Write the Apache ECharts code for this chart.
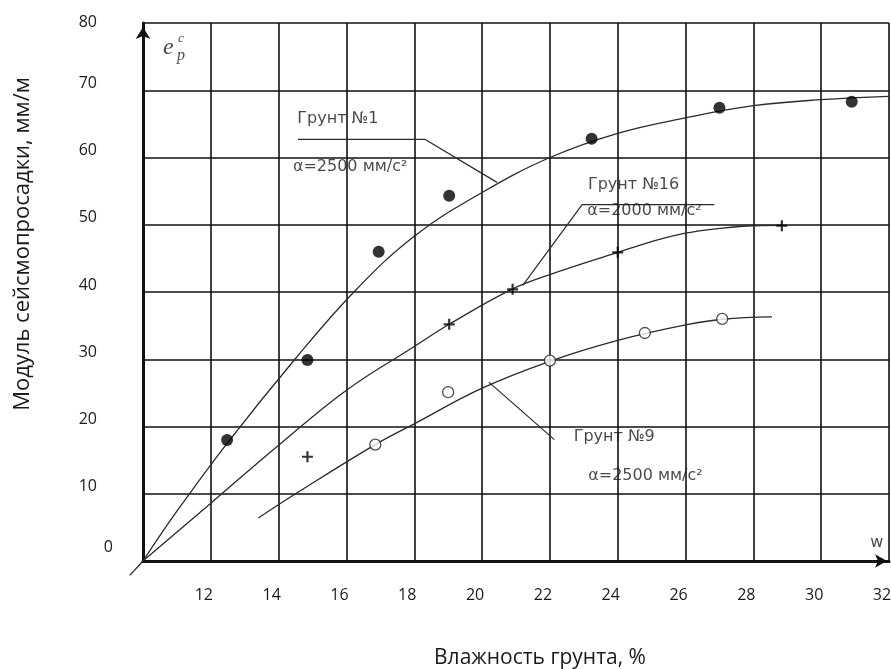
<!DOCTYPE html>
<html>
<head>
<meta charset="utf-8">
<script src="https://cdn.jsdelivr.net/npm/echarts@6/dist/echarts.min.js"></script>
<style>
  html, body { margin: 0; padding: 0; background: #fff; }
  #chart { width: 891px; height: 669px; }
</style>
</head>
<body>
<div id="chart"></div>
<script>
// ---- axis settings ----
const xMin = 10, xMax = 32, xStep = 2;
const yMin = 0, yMax = 80, yStep = 10;
const xTitle = 'Влажность грунта, %';
const yTitle = 'Модуль сейсмопросадки, мм/м';

// ---- measured points ----
const soil1Points = [[12.48, 18.0], [14.85, 29.9], [16.95, 46.0], [19.03, 54.3], [23.23, 62.8], [27.0, 67.4], [30.9, 68.3]];
const soil16Points = [[14.85, 15.5], [19.03, 35.2], [20.9, 40.4], [24.0, 45.9], [28.84, 49.85]];
const soil9Points = [[16.85, 17.3], [19.0, 25.1], [22.0, 29.8], [24.8, 33.9], [27.08, 36.0]];

// ---- fitted curves ----
const soil1Curve = [[10, 0], [11, 7.4], [12.48, 17.5], [14.48, 30], [16.22, 40], [18, 48.3], [20, 54.8], [22, 60], [24, 63.6], [26, 65.9], [28, 67.7], [30, 68.6], [32, 69.1]];
const soil16Curve = [[10, 0], [12, 8.6], [14, 17.2], [16, 25.4], [18, 31.9], [19.03, 35.2], [20.87, 40.4], [22, 42.6], [24, 45.9], [25, 47.5], [26, 48.75], [27, 49.45], [28, 49.85], [28.9, 49.9]];
const soil9Curve = [[13.4, 6.4], [14.5, 10], [16.85, 17.3], [18, 20.4], [20, 25.7], [22, 29.7], [24, 32.8], [26, 35.1], [27.1, 35.95], [28.55, 36.3]];
const originTail = [[9.61, -2.13], [10, 0]];

// ---- callout leader lines ----
const leader1 = [[14.57, 62.7], [18.31, 62.7], [20.44, 56.3]];
const leader16 = [[26.85, 53.0], [22.95, 53.0], [21.2, 41.0]];
const leader9 = [[20.2, 26.6], [22.13, 18.05]];

// ---- callout texts ----
const noteTexts = ['Грунт №1', 'α=2500 мм/с²', 'Грунт №16', 'α=2000 мм/с²', 'Грунт №9', 'α=2500 мм/с²', 'w'];
const notePositions = [[14.55, 65.8], [14.42, 58.6], [23.12, 55.9], [23.1, 52.0], [22.7, 18.4], [23.13, 12.6], [31.45, 2.7]];
const symbolTexts = ['e', 'p', 'c'];
const symbolPositions = [[10.59, 76.4], [11.0, 75.1], [11.03, 77.7]];

const FONT = '"Open Sans", "Noto Sans", sans-serif';
const NOTE_FONT = '"DejaVu Sans", "Noto Sans", sans-serif';
const INK = '#1a1a1a';

const chart = echarts.init(document.getElementById('chart'), null, { renderer: 'canvas' });

function curveSeries(data) {
  return {
    type: 'line', data: data, smooth: 0.4, showSymbol: false, symbol: 'none',
    lineStyle: { color: '#2a2a2a', width: 1.3 }, silent: true, z: 3
  };
}
function leaderSeries(data) {
  return {
    type: 'line', data: data, smooth: false, showSymbol: false, symbol: 'none',
    lineStyle: { color: '#2a2a2a', width: 1.2 }, silent: true, z: 3
  };
}

const symbolStyles = [
  { fontFamily: '"Liberation Serif", "DejaVu Serif", serif', fontStyle: 'italic', fontSize: 24 },
  { fontFamily: '"Liberation Serif", "DejaVu Serif", serif', fontStyle: 'italic', fontSize: 16 },
  { fontFamily: '"Liberation Serif", "DejaVu Serif", serif', fontStyle: 'italic', fontSize: 13 }
];

const option = {
  backgroundColor: '#fff',
  animation: false,
  grid: { left: 143, right: 2, top: 23, bottom: 108, outerBoundsMode: 'none', containLabel: false },
  xAxis: {
    type: 'value', min: xMin, max: xMax, interval: xStep,
    name: xTitle, nameLocation: 'middle', nameGap: 87,
    nameTextStyle: { fontFamily: FONT, fontSize: 21, color: INK, padding: [0, 0, 0, 48] },
    axisLine: { show: true, onZero: true, lineStyle: { color: '#111', width: 3 },
      symbol: ['none', 'arrow'], symbolSize: [10, 12], symbolOffset: [0, -2] },
    axisTick: { show: false },
    axisLabel: { showMinLabel: false, fontFamily: FONT, fontSize: 16, color: INK, margin: 26, padding: [0, 14, 0, 0] },
    splitLine: { show: true, lineStyle: { color: '#111', width: 1.6 } }
  },
  yAxis: {
    type: 'value', min: yMin, max: yMax, interval: yStep,
    name: yTitle, nameLocation: 'middle', nameGap: 109,
    nameTextStyle: { fontFamily: FONT, fontSize: 22, color: INK, padding: [0, 0, 0, 96] },
    axisLine: { show: true, lineStyle: { color: '#111', width: 3 },
      symbol: ['none', 'arrow'], symbolSize: [11, 12], symbolOffset: [0, -4] },
    axisTick: { show: false },
    axisLabel: {
      fontFamily: FONT, fontSize: 16, color: INK, margin: 30, verticalAlign: 'middle',
      formatter: function (v) {
        if (v === yMax) return '{top|' + v + '}';
        if (v === yMin) return '{zero|' + v + '}';
        return '{mid|' + v + '}';
      },
      rich: {
        top: { fontFamily: FONT, fontSize: 16, color: INK, padding: [0, 16, 2, 0] },
        mid: { fontFamily: FONT, fontSize: 16, color: INK, padding: [0, 16, 14, 0] },
        zero: { fontFamily: FONT, fontSize: 16, color: INK, padding: [0, 0, 28, 0] }
      }
    },
    splitLine: { show: true, lineStyle: { color: '#111', width: 1.6 } }
  },
  series: [
    curveSeries(soil1Curve),
    curveSeries(soil16Curve),
    curveSeries(soil9Curve),
    {
      type: 'custom', silent: true, z: 3, clip: false, data: [0],
      renderItem: function (params, api) {
        const a = api.coord(originTail[0]);
        const b = api.coord(originTail[1]);
        return { type: 'line', shape: { x1: a[0], y1: a[1], x2: b[0], y2: b[1] },
          style: { stroke: '#2a2a2a', lineWidth: 1.3 } };
      }
    },
    leaderSeries(leader1),
    leaderSeries(leader16),
    leaderSeries(leader9),
    {
      type: 'scatter', data: soil1Points, symbol: 'circle', symbolSize: 12,
      itemStyle: { color: '#000' }, z: 5, silent: true
    },
    {
      type: 'scatter', data: soil16Points,
      symbol: 'path://M4,0H6V4H10V6H6V10H4V6H0V4H4Z', symbolSize: 11,
      itemStyle: { color: '#000' }, z: 5, silent: true
    },
    {
      type: 'scatter', data: soil9Points, symbol: 'circle', symbolSize: 11,
      itemStyle: { color: '#fff', borderColor: '#222', borderWidth: 1.3 }, z: 5, silent: true
    },
    {
      type: 'scatter', symbolSize: 0, silent: true, z: 6,
      data: noteTexts.map((t, i) => ({
        value: notePositions[i],
        label: { show: true, formatter: t, position: 'right', distance: 0,
          fontFamily: NOTE_FONT, fontSize: 16, color: INK }
      }))
    },
    {
      type: 'scatter', symbolSize: 0, silent: true, z: 6, clip: false,
      data: symbolTexts.map((t, i) => ({
        value: symbolPositions[i],
        label: Object.assign({ show: true, formatter: t, position: 'right', distance: 0, color: INK }, symbolStyles[i])
      }))
    }
  ]
};
chart.setOption(option);
</script>
</body>
</html>
